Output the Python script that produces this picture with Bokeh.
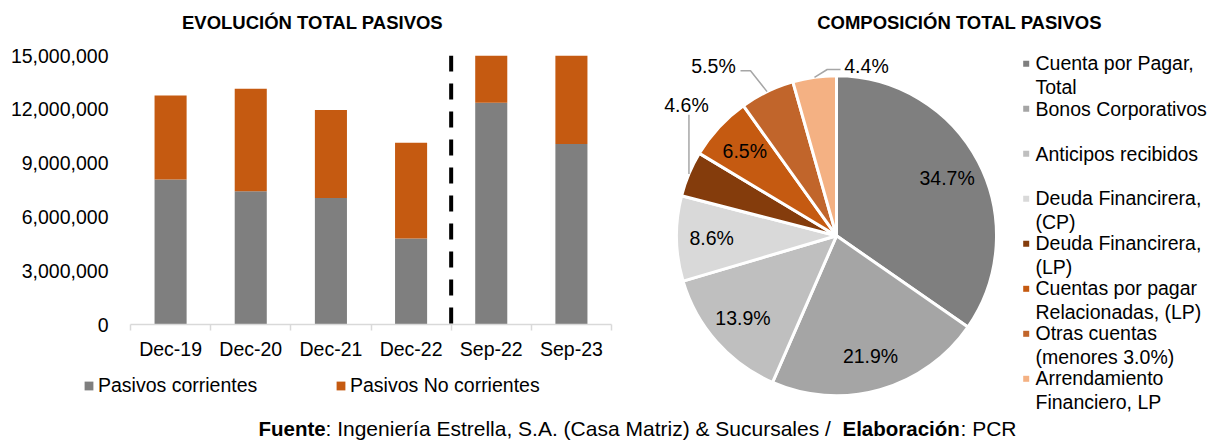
import numpy as np
from bokeh.plotting import figure
from bokeh.models import (ColumnDataSource, Range1d, LinearAxis, FixedTicker,
                          NumeralTickFormatter, Span, Legend, LegendItem)
from bokeh.layouts import row, column
from bokeh.embed import file_html
from bokeh.resources import INLINE
from bokeh.core.properties import value

# ---------------- data ----------------
periods = ["Dec-19", "Dec-20", "Dec-21", "Dec-22", "Sep-22", "Sep-23"]
pasivos_corrientes = [8080000, 7430000, 7050000, 4790000, 12370000, 10060000]
pasivos_no_corrientes = [4690000, 5720000, 4910000, 5350000, 4000000, 5500000]
y_ticks = [0, 3000000, 6000000, 9000000, 12000000, 15000000]
series_names = ["Pasivos corrientes", "Pasivos No corrientes"]

comp_labels = ["Cuenta por Pagar,\nTotal", "Bonos Corporativos", "Anticipos recibidos",
               "Deuda Financirera,\n(CP)", "Deuda Financirera,\n(LP)",
               "Cuentas por pagar\nRelacionadas, (LP)", "Otras cuentas\n(menores 3.0%)",
               "Arrendamiento\nFinanciero, LP"]
comp_values = [34.7, 21.9, 13.9, 8.6, 4.6, 6.5, 5.5, 4.4]

titles = ["EVOLUCIÓN TOTAL PASIVOS", "COMPOSICIÓN TOTAL PASIVOS"]

# ---------------- style ----------------
FONT = "Liberation Sans"
TXT = "#000000"
FS = "19.5px"
bar_colors = ["#7f7f7f", "#c55a11"]
comp_colors = ["#7f7f7f", "#a5a5a5", "#bfbfbf", "#d9d9d9",
               "#843c0c", "#c55a11", "#c1652b", "#f4b183"]


def bare(p):
    p.outline_line_color = None
    p.background_fill_color = "white"
    p.border_fill_color = "white"
    p.frame_align = False
    for g in p.grid:
        g.visible = False


def strip(w, h):
    p = figure(width=w, height=h, x_range=Range1d(0, w), y_range=Range1d(h, 0),
               output_backend="svg", toolbar_location=None,
               x_axis_location=None, y_axis_location=None, min_border=0)
    bare(p)
    return p


# ---------------- titles strip ----------------
ptop = strip(1212, 40)
ptop.text(x=[312, 959], y=[22, 22], text=titles, text_align="center", text_baseline="middle",
          text_font=value(FONT), text_font_size="18.5px", text_font_style="bold",
          text_color=TXT)

# ---------------- bar chart ----------------
n = len(periods)
x_pos = np.arange(n) + 0.5
src = ColumnDataSource(dict(x=x_pos, corr=pasivos_corrientes,
                            nocorr=pasivos_no_corrientes))

p1 = figure(width=640, height=330, x_range=Range1d(0, n), y_range=Range1d(0, 15000000),
            output_backend="svg", toolbar_location=None,
            x_axis_location=None, y_axis_location=None,
            min_border_left=130, min_border_right=29, min_border_top=15, min_border_bottom=46)
bare(p1)

rs = p1.vbar_stack(["corr", "nocorr"], x="x", width=0.4, fill_color=bar_colors,
                   line_color=None, source=src)

yaxis = LinearAxis(ticker=FixedTicker(ticks=y_ticks),
                   formatter=NumeralTickFormatter(format="0,0"),
                   axis_line_color=None, major_tick_out=0, major_tick_in=0,
                   minor_tick_out=0, minor_tick_in=0,
                   major_label_standoff=22, major_label_text_font_size=FS,
                   major_label_text_font=FONT, major_label_text_color=TXT)
p1.add_layout(yaxis, "left")

xaxis = LinearAxis(ticker=FixedTicker(ticks=list(x_pos), minor_ticks=list(range(n + 1))),
                   major_label_overrides={float(x): lab for x, lab in zip(x_pos, periods)},
                   axis_line_color="#d9d9d9", axis_line_width=1.5,
                   major_tick_out=0, major_tick_in=0,
                   minor_tick_out=6, minor_tick_in=0,
                   minor_tick_line_color="#d9d9d9", minor_tick_line_width=1.5,
                   major_label_standoff=7, major_label_text_font_size=FS,
                   major_label_text_font=FONT, major_label_text_color=TXT)
p1.add_layout(xaxis, "below")

p1.add_layout(Span(location=periods.index("Sep-22"), dimension="height",
                   line_color="black", line_width=4, line_dash="16 12"))

# legend strip under the bar chart
pleg = strip(640, 44)
leg_r = [pleg.vbar(x=[np.nan], top=[np.nan], width=0.4, fill_color=c, line_color=None)
         for c in bar_colors]
legend = Legend(items=[LegendItem(label=nm, renderers=[r]) for nm, r in zip(series_names, leg_r)],
                location=(83, 17.5), orientation="horizontal", padding=0, margin=0,
                spacing=0, glyph_width=11, glyph_height=11, label_standoff=4,
                label_width=237, label_height=20, label_text_font_size=FS,
                label_text_font=FONT, label_text_color=TXT,
                border_line_color=None, background_fill_alpha=0)
pleg.add_layout(legend)

# ---------------- pie chart ----------------
R = 160
p2 = figure(width=572, height=374, x_range=Range1d(-196, 376), y_range=Range1d(-178.7, 195.3),
            output_backend="svg", toolbar_location=None,
            x_axis_location=None, y_axis_location=None, min_border=0)
bare(p2)

vals = np.array(comp_values, dtype=float)
fr = vals / vals.sum()
cum = np.cumsum(fr)
start = np.pi / 2 - 2 * np.pi * (cum - fr)
end = np.pi / 2 - 2 * np.pi * cum
mid = (start + end) / 2
pie_src = ColumnDataSource(dict(start=start, end=end, color=comp_colors))
p2.wedge(x=0, y=0, radius=R, start_angle="start", end_angle="end", direction="clock",
         fill_color="color", line_color="white", line_width=3, source=pie_src)

pct = [f"{v:.1f}%" for v in comp_values]
outside = {4: (-150, 131.3), 6: (-123, 170.3), 7: (30, 170.3)}
lx, ly = [], []
for i in range(len(comp_values)):
    if i in outside:
        lx.append(outside[i][0]); ly.append(outside[i][1])
    else:
        lx.append(0.78 * R * np.cos(mid[i])); ly.append(0.78 * R * np.sin(mid[i]))
p2.text(x=lx, y=ly, text=pct, text_align="center", text_baseline="middle",
        text_font=value(FONT), text_font_size=FS, text_color=TXT)

# leader lines: from slice edge to label
elbows = {4: [(None, 121)], 6: [(-86, 165), (-96, 165)], 7: [(-9.3, 166.3), (4, 166.3)]}
xs, ys = [], []
for i, pts in elbows.items():
    ex, ey = R * np.cos(mid[i]), R * np.sin(mid[i])
    px = [ex] + [ex if a is None else a for a, b in pts]
    py = [ey] + [b for a, b in pts]
    xs.append(px); ys.append(py)
p2.multi_line(xs=xs, ys=ys, line_color="#a6a6a6", line_width=1.5)

# legend (right)
LINE = 22.4
leg_first_y = [235.3 - (63.3 + 45 * i) for i in range(len(comp_labels))]
nl = [lab.count("\n") + 1 for lab in comp_labels]
leg_text_y = [y - (k - 1) * LINE / 2 for y, k in zip(leg_first_y, nl)]
p2.scatter(x=[1025.7 - 836] * len(comp_labels), y=leg_first_y, marker="square", size=6,
           fill_color=comp_colors, line_color=None)
p2.text(x=[1035 - 836] * len(comp_labels), y=leg_text_y, text=comp_labels,
        text_align="left", text_baseline="middle", text_line_height=1.07,
        text_font=value(FONT), text_font_size=FS, text_color=TXT)

# ---------------- footer ----------------
p3 = strip(1212, 26)
footer_parts = ["Fuente", ": Ingeniería Estrella, S.A. (Casa Matriz) & Sucursales / ",
                "Elaboración", ": PCR"]
footer_bold = [True, False, True, False]
footer_x = [258, 325, 842, 960]
for txt, b, x in zip(footer_parts, footer_bold, footer_x):
    p3.text(x=[x], y=[14], text=[txt], text_align="left", text_baseline="middle",
            text_font=value(FONT), text_font_size="20.5px" if b else "21px",
            text_font_style="bold" if b else "normal", text_color=TXT)

layout = column(ptop, row(column(p1, pleg), p2), p3)
open("out.html", "w").write(file_html(layout, INLINE))
